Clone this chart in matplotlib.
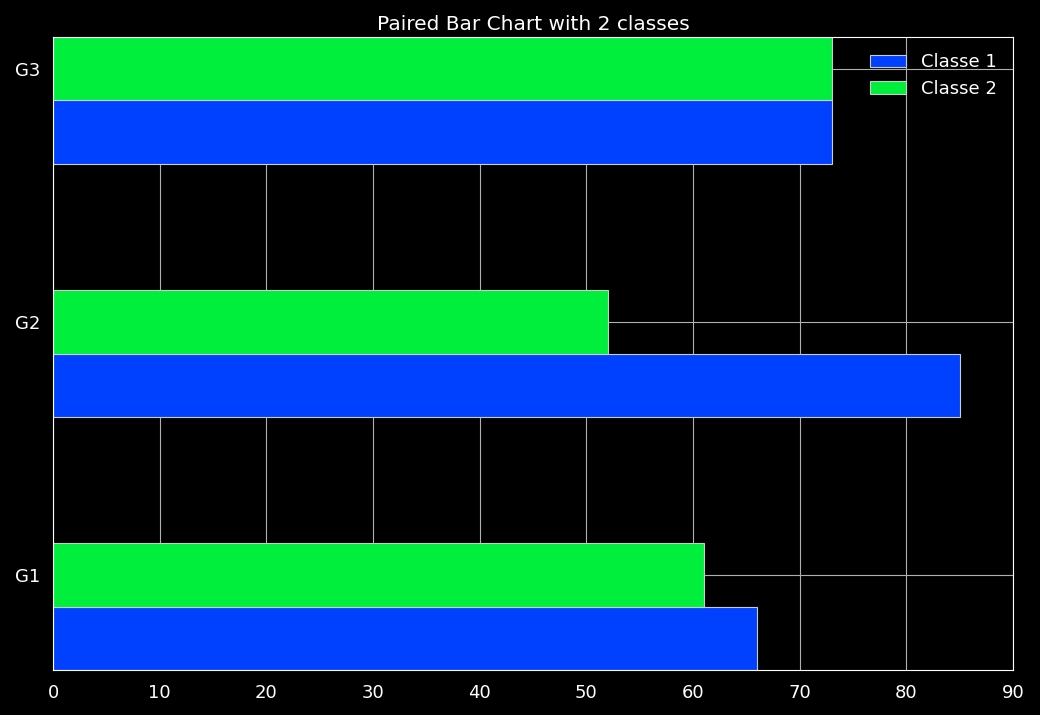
import numpy as np
import matplotlib
matplotlib.use("Agg")
import matplotlib.pyplot as plt

groups = ["G1", "G2", "G3"]
classe1 = [66, 85, 73]
classe2 = [61, 52, 73]

def main():
    plt.style.use("dark_background")
    fig, ax = plt.subplots(figsize=(10.4, 7.15), dpi=100)
    fig.subplots_adjust(left=0.051, right=0.974, top=0.948, bottom=0.063)

    y = np.arange(len(groups))
    h = 0.25
    ax.barh(y - h, classe1, height=h, color="#0040ff", edgecolor="#cccccc",
            linewidth=0.8, label="Classe 1", zorder=2)
    ax.barh(y, classe2, height=h, color="#00ee3c", edgecolor="#cccccc",
            linewidth=0.8, label="Classe 2", zorder=2)

    ax.set_yticks(y)
    ax.set_yticklabels(groups)
    ax.set_xlim(0, 90)
    ax.set_xticks(range(0, 91, 10))
    ax.set_ylim(-0.375, 2.125)
    ax.grid(True, color="#b0b0b0", linewidth=0.8, zorder=0)
    ax.set_axisbelow(True)
    ax.tick_params(length=0, labelsize=13)
    ax.tick_params(axis="x", pad=10)
    ax.tick_params(axis="y", pad=9)
    for s in ax.spines.values():
        s.set_color("white")
    ax.set_title("Paired Bar Chart with 2 classes", fontsize=14.5, pad=5)
    ax.legend(loc="upper right", frameon=False, fontsize=13,
              handlelength=2.0, labelspacing=0.45)

    fig.savefig("out.png", facecolor="black")

if __name__ == "__main__":
    main()
